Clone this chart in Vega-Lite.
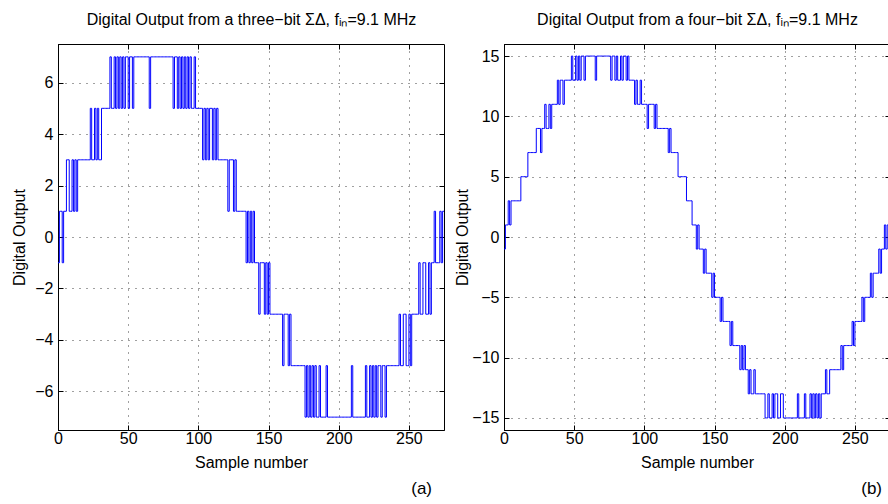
{
"$schema": "https://vega.github.io/schema/vega-lite/v6.json",
"autosize": {"type": "pad"},
"padding": {"left": 11, "top": 11, "right": 0, "bottom": 0},
"background": "white",
"bounds": "flush",
"spacing": 60,
"config": {
  "font": "Liberation Sans",
  "view": {"stroke": "black", "strokeWidth": 1},
  "axis": {"domainColor": "black", "tickColor": "black", "tickSize": -5, "labelFontSize": 16, "titleFontSize": 16, "titleFontWeight": "normal", "labelColor": "black", "titleColor": "black", "gridColor": "#000000", "gridDash": [1, 6], "gridOpacity": 0.75, "labelFlush": false, "labelOverlap": false, "labelPadding": 10}
},
"datasets": {
"a": [
{"n":0,"v":-1},{"n":1,"v":1},{"n":2,"v":1},{"n":3,"v":-1},{"n":4,"v":1},{"n":5,"v":1},{"n":6,"v":3},{"n":7,"v":3},{"n":8,"v":1},{"n":9,"v":1},
{"n":10,"v":3},{"n":11,"v":1},{"n":12,"v":3},{"n":13,"v":1},{"n":14,"v":3},{"n":15,"v":3},{"n":16,"v":3},{"n":17,"v":3},{"n":18,"v":3},{"n":19,"v":3},
{"n":20,"v":3},{"n":21,"v":3},{"n":22,"v":3},{"n":23,"v":5},{"n":24,"v":3},{"n":25,"v":3},{"n":26,"v":5},{"n":27,"v":3},{"n":28,"v":5},{"n":29,"v":3},
{"n":30,"v":3},{"n":31,"v":5},{"n":32,"v":5},{"n":33,"v":5},{"n":34,"v":5},{"n":35,"v":5},{"n":36,"v":5},{"n":37,"v":7},{"n":38,"v":5},{"n":39,"v":5},
{"n":40,"v":7},{"n":41,"v":5},{"n":42,"v":7},{"n":43,"v":5},{"n":44,"v":7},{"n":45,"v":5},{"n":46,"v":7},{"n":47,"v":5},{"n":48,"v":7},{"n":49,"v":7},
{"n":50,"v":5},{"n":51,"v":7},{"n":52,"v":7},{"n":53,"v":5},{"n":54,"v":7},{"n":55,"v":7},{"n":56,"v":7},{"n":57,"v":7},{"n":58,"v":7},{"n":59,"v":7},
{"n":60,"v":7},{"n":61,"v":7},{"n":62,"v":7},{"n":63,"v":7},{"n":64,"v":7},{"n":65,"v":5},{"n":66,"v":7},{"n":67,"v":7},{"n":68,"v":7},{"n":69,"v":7},
{"n":70,"v":7},{"n":71,"v":7},{"n":72,"v":7},{"n":73,"v":7},{"n":74,"v":7},{"n":75,"v":7},{"n":76,"v":7},{"n":77,"v":7},{"n":78,"v":7},{"n":79,"v":7},
{"n":80,"v":7},{"n":81,"v":7},{"n":82,"v":5},{"n":83,"v":7},{"n":84,"v":7},{"n":85,"v":5},{"n":86,"v":7},{"n":87,"v":5},{"n":88,"v":7},{"n":89,"v":5},
{"n":90,"v":7},{"n":91,"v":5},{"n":92,"v":7},{"n":93,"v":5},{"n":94,"v":7},{"n":95,"v":5},{"n":96,"v":5},{"n":97,"v":7},{"n":98,"v":5},{"n":99,"v":5},
{"n":100,"v":5},{"n":101,"v":5},{"n":102,"v":5},{"n":103,"v":3},{"n":104,"v":5},{"n":105,"v":3},{"n":106,"v":5},{"n":107,"v":3},{"n":108,"v":5},{"n":109,"v":5},
{"n":110,"v":3},{"n":111,"v":5},{"n":112,"v":3},{"n":113,"v":5},{"n":114,"v":3},{"n":115,"v":3},{"n":116,"v":3},{"n":117,"v":3},{"n":118,"v":3},{"n":119,"v":3},
{"n":120,"v":3},{"n":121,"v":1},{"n":122,"v":3},{"n":123,"v":3},{"n":124,"v":3},{"n":125,"v":1},{"n":126,"v":3},{"n":127,"v":1},{"n":128,"v":1},{"n":129,"v":1},
{"n":130,"v":1},{"n":131,"v":1},{"n":132,"v":1},{"n":133,"v":1},{"n":134,"v":-1},{"n":135,"v":1},{"n":136,"v":-1},{"n":137,"v":1},{"n":138,"v":-1},{"n":139,"v":1},
{"n":140,"v":-1},{"n":141,"v":-1},{"n":142,"v":-1},{"n":143,"v":-3},{"n":144,"v":-1},{"n":145,"v":-1},{"n":146,"v":-1},{"n":147,"v":-3},{"n":148,"v":-1},{"n":149,"v":-3},
{"n":150,"v":-1},{"n":151,"v":-3},{"n":152,"v":-3},{"n":153,"v":-3},{"n":154,"v":-3},{"n":155,"v":-3},{"n":156,"v":-3},{"n":157,"v":-3},{"n":158,"v":-3},{"n":159,"v":-3},
{"n":160,"v":-5},{"n":161,"v":-3},{"n":162,"v":-3},{"n":163,"v":-3},{"n":164,"v":-5},{"n":165,"v":-3},{"n":166,"v":-5},{"n":167,"v":-5},{"n":168,"v":-5},{"n":169,"v":-5},
{"n":170,"v":-5},{"n":171,"v":-5},{"n":172,"v":-5},{"n":173,"v":-5},{"n":174,"v":-5},{"n":175,"v":-5},{"n":176,"v":-7},{"n":177,"v":-5},{"n":178,"v":-7},{"n":179,"v":-5},
{"n":180,"v":-7},{"n":181,"v":-5},{"n":182,"v":-7},{"n":183,"v":-5},{"n":184,"v":-7},{"n":185,"v":-7},{"n":186,"v":-5},{"n":187,"v":-7},{"n":188,"v":-7},{"n":189,"v":-7},
{"n":190,"v":-7},{"n":191,"v":-5},{"n":192,"v":-7},{"n":193,"v":-7},{"n":194,"v":-7},{"n":195,"v":-7},{"n":196,"v":-7},{"n":197,"v":-7},{"n":198,"v":-7},{"n":199,"v":-7},
{"n":200,"v":-7},{"n":201,"v":-7},{"n":202,"v":-7},{"n":203,"v":-7},{"n":204,"v":-7},{"n":205,"v":-7},{"n":206,"v":-7},{"n":207,"v":-7},{"n":208,"v":-7},{"n":209,"v":-5},
{"n":210,"v":-7},{"n":211,"v":-7},{"n":212,"v":-7},{"n":213,"v":-7},{"n":214,"v":-7},{"n":215,"v":-7},{"n":216,"v":-7},{"n":217,"v":-7},{"n":218,"v":-7},{"n":219,"v":-5},
{"n":220,"v":-7},{"n":221,"v":-7},{"n":222,"v":-5},{"n":223,"v":-7},{"n":224,"v":-5},{"n":225,"v":-7},{"n":226,"v":-5},{"n":227,"v":-7},{"n":228,"v":-5},{"n":229,"v":-5},
{"n":230,"v":-7},{"n":231,"v":-5},{"n":232,"v":-5},{"n":233,"v":-7},{"n":234,"v":-5},{"n":235,"v":-5},{"n":236,"v":-5},{"n":237,"v":-5},{"n":238,"v":-5},{"n":239,"v":-5},
{"n":240,"v":-5},{"n":241,"v":-5},{"n":242,"v":-5},{"n":243,"v":-3},{"n":244,"v":-5},{"n":245,"v":-5},{"n":246,"v":-3},{"n":247,"v":-3},{"n":248,"v":-5},{"n":249,"v":-5},
{"n":250,"v":-3},{"n":251,"v":-5},{"n":252,"v":-3},{"n":253,"v":-3},{"n":254,"v":-3},{"n":255,"v":-3},{"n":256,"v":-3},{"n":257,"v":-1},{"n":258,"v":-3},{"n":259,"v":-3},
{"n":260,"v":-1},{"n":261,"v":-1},{"n":262,"v":-3},{"n":263,"v":-3},{"n":264,"v":-1},{"n":265,"v":-3},{"n":266,"v":-1},{"n":267,"v":-1},{"n":268,"v":1},{"n":269,"v":-1},
{"n":270,"v":-1},{"n":271,"v":-1},{"n":272,"v":1},{"n":273,"v":-1},{"n":274,"v":1},{"n":275,"v":1}
],
"b": [
{"n":0,"v":-1},{"n":1,"v":1},{"n":2,"v":1},{"n":3,"v":3},{"n":4,"v":1},{"n":5,"v":3},{"n":6,"v":3},{"n":7,"v":3},{"n":8,"v":3},{"n":9,"v":3},
{"n":10,"v":3},{"n":11,"v":3},{"n":12,"v":5},{"n":13,"v":5},{"n":14,"v":5},{"n":15,"v":5},{"n":16,"v":5},{"n":17,"v":7},{"n":18,"v":7},{"n":19,"v":7},
{"n":20,"v":7},{"n":21,"v":7},{"n":22,"v":7},{"n":23,"v":9},{"n":24,"v":9},{"n":25,"v":9},{"n":26,"v":7},{"n":27,"v":9},{"n":28,"v":9},{"n":29,"v":11},
{"n":30,"v":9},{"n":31,"v":9},{"n":32,"v":11},{"n":33,"v":9},{"n":34,"v":11},{"n":35,"v":11},{"n":36,"v":11},{"n":37,"v":11},{"n":38,"v":13},{"n":39,"v":11},
{"n":40,"v":13},{"n":41,"v":13},{"n":42,"v":11},{"n":43,"v":13},{"n":44,"v":13},{"n":45,"v":13},{"n":46,"v":13},{"n":47,"v":13},{"n":48,"v":15},{"n":49,"v":13},
{"n":50,"v":13},{"n":51,"v":15},{"n":52,"v":13},{"n":53,"v":15},{"n":54,"v":13},{"n":55,"v":15},{"n":56,"v":15},{"n":57,"v":13},{"n":58,"v":15},{"n":59,"v":15},
{"n":60,"v":15},{"n":61,"v":15},{"n":62,"v":15},{"n":63,"v":15},{"n":64,"v":15},{"n":65,"v":13},{"n":66,"v":15},{"n":67,"v":15},{"n":68,"v":15},{"n":69,"v":15},
{"n":70,"v":15},{"n":71,"v":15},{"n":72,"v":15},{"n":73,"v":15},{"n":74,"v":15},{"n":75,"v":15},{"n":76,"v":13},{"n":77,"v":15},{"n":78,"v":15},{"n":79,"v":13},
{"n":80,"v":15},{"n":81,"v":13},{"n":82,"v":13},{"n":83,"v":15},{"n":84,"v":13},{"n":85,"v":15},{"n":86,"v":15},{"n":87,"v":13},{"n":88,"v":15},{"n":89,"v":13},
{"n":90,"v":13},{"n":91,"v":13},{"n":92,"v":13},{"n":93,"v":11},{"n":94,"v":13},{"n":95,"v":11},{"n":96,"v":11},{"n":97,"v":13},{"n":98,"v":11},{"n":99,"v":11},
{"n":100,"v":11},{"n":101,"v":11},{"n":102,"v":9},{"n":103,"v":11},{"n":104,"v":11},{"n":105,"v":11},{"n":106,"v":11},{"n":107,"v":9},{"n":108,"v":11},{"n":109,"v":9},
{"n":110,"v":9},{"n":111,"v":9},{"n":112,"v":9},{"n":113,"v":9},{"n":114,"v":9},{"n":115,"v":9},{"n":116,"v":9},{"n":117,"v":7},{"n":118,"v":9},{"n":119,"v":7},
{"n":120,"v":7},{"n":121,"v":7},{"n":122,"v":7},{"n":123,"v":7},{"n":124,"v":5},{"n":125,"v":5},{"n":126,"v":5},{"n":127,"v":5},{"n":128,"v":5},{"n":129,"v":5},
{"n":130,"v":3},{"n":131,"v":3},{"n":132,"v":3},{"n":133,"v":3},{"n":134,"v":1},{"n":135,"v":1},{"n":136,"v":1},{"n":137,"v":-1},{"n":138,"v":1},{"n":139,"v":-1},
{"n":140,"v":-1},{"n":141,"v":-1},{"n":142,"v":-3},{"n":143,"v":-1},{"n":144,"v":-3},{"n":145,"v":-3},{"n":146,"v":-3},{"n":147,"v":-3},{"n":148,"v":-5},{"n":149,"v":-3},
{"n":150,"v":-5},{"n":151,"v":-5},{"n":152,"v":-5},{"n":153,"v":-5},{"n":154,"v":-7},{"n":155,"v":-5},{"n":156,"v":-7},{"n":157,"v":-7},{"n":158,"v":-7},{"n":159,"v":-7},
{"n":160,"v":-7},{"n":161,"v":-9},{"n":162,"v":-7},{"n":163,"v":-9},{"n":164,"v":-9},{"n":165,"v":-9},{"n":166,"v":-9},{"n":167,"v":-9},{"n":168,"v":-11},{"n":169,"v":-9},
{"n":170,"v":-11},{"n":171,"v":-9},{"n":172,"v":-11},{"n":173,"v":-11},{"n":174,"v":-13},{"n":175,"v":-11},{"n":176,"v":-13},{"n":177,"v":-13},{"n":178,"v":-11},{"n":179,"v":-13},
{"n":180,"v":-13},{"n":181,"v":-13},{"n":182,"v":-13},{"n":183,"v":-13},{"n":184,"v":-13},{"n":185,"v":-13},{"n":186,"v":-15},{"n":187,"v":-15},{"n":188,"v":-13},{"n":189,"v":-15},
{"n":190,"v":-15},{"n":191,"v":-13},{"n":192,"v":-15},{"n":193,"v":-13},{"n":194,"v":-13},{"n":195,"v":-15},{"n":196,"v":-15},{"n":197,"v":-13},{"n":198,"v":-13},{"n":199,"v":-15},
{"n":200,"v":-15},{"n":201,"v":-15},{"n":202,"v":-15},{"n":203,"v":-15},{"n":204,"v":-15},{"n":205,"v":-15},{"n":206,"v":-15},{"n":207,"v":-15},{"n":208,"v":-15},{"n":209,"v":-13},
{"n":210,"v":-15},{"n":211,"v":-15},{"n":212,"v":-15},{"n":213,"v":-15},{"n":214,"v":-13},{"n":215,"v":-15},{"n":216,"v":-15},{"n":217,"v":-15},{"n":218,"v":-13},{"n":219,"v":-15},
{"n":220,"v":-13},{"n":221,"v":-15},{"n":222,"v":-13},{"n":223,"v":-15},{"n":224,"v":-13},{"n":225,"v":-15},{"n":226,"v":-13},{"n":227,"v":-13},{"n":228,"v":-13},{"n":229,"v":-11},
{"n":230,"v":-13},{"n":231,"v":-13},{"n":232,"v":-11},{"n":233,"v":-11},{"n":234,"v":-11},{"n":235,"v":-11},{"n":236,"v":-11},{"n":237,"v":-11},{"n":238,"v":-11},{"n":239,"v":-11},
{"n":240,"v":-9},{"n":241,"v":-11},{"n":242,"v":-9},{"n":243,"v":-9},{"n":244,"v":-9},{"n":245,"v":-9},{"n":246,"v":-9},{"n":247,"v":-9},{"n":248,"v":-7},{"n":249,"v":-9},
{"n":250,"v":-7},{"n":251,"v":-7},{"n":252,"v":-7},{"n":253,"v":-7},{"n":254,"v":-7},{"n":255,"v":-5},{"n":256,"v":-7},{"n":257,"v":-5},{"n":258,"v":-5},{"n":259,"v":-5},
{"n":260,"v":-5},{"n":261,"v":-3},{"n":262,"v":-5},{"n":263,"v":-3},{"n":264,"v":-3},{"n":265,"v":-3},{"n":266,"v":-3},{"n":267,"v":-1},{"n":268,"v":-3},{"n":269,"v":-1},
{"n":270,"v":-1},{"n":271,"v":1},{"n":272,"v":-1},{"n":273,"v":1},{"n":274,"v":1},{"n":275,"v":1}
]
},
"hconcat": [
{
  "width": 386, "height": 386,
  "data": {"name": "a"},
  "title": {"text": "(a)", "orient": "bottom", "anchor": "end", "frame": "group", "fontSize": 17, "fontWeight": "normal", "offset": 11, "dx": -12},
  "layer": [
    {"mark": {"type": "line", "interpolate": "step-after", "color": "#0000ff", "strokeWidth": 1, "clip": true},
     "encoding": {
       "x": {"field": "n", "type": "quantitative", "scale": {"domain": [0, 275], "nice": false, "zero": false}, "axis": {"orient": "bottom", "values": [0,50,100,150,200,250], "title": "Sample number", "grid": true, "labelPadding": 5, "titlePadding": 8}},
       "y": {"field": "v", "type": "quantitative", "scale": {"domain": [-7.5, 7.5], "nice": false, "zero": false}, "axis": {"orient": "left", "values": [-6,-4,-2,0,2,4,6], "title": "Digital Output", "grid": true, "titlePadding": 7}}
     }},
    {"mark": {"type": "line", "opacity": 0},
     "encoding": {
       "x": {"field": "n", "type": "quantitative", "axis": {"orient": "top", "values": [0,50,100,150,200,250], "labels": false, "grid": false, "domain": false, "title": "Digital Output from a three−bit ΣΔ, fᵢₙ=9.1 MHz", "titlePadding": 16}},
       "y": {"field": "v", "type": "quantitative", "axis": {"orient": "right", "values": [-6,-4,-2,0,2,4,6], "labels": false, "grid": false, "domain": false, "title": null}}
     }}
  ],
  "resolve": {"axis": {"x": "independent", "y": "independent"}}
},
{
  "width": 386, "height": 386,
  "data": {"name": "b"},
  "title": {"text": "(b)", "orient": "bottom", "anchor": "end", "frame": "group", "fontSize": 17, "fontWeight": "normal", "offset": 11, "dx": -8},
  "layer": [
    {"mark": {"type": "line", "interpolate": "step-after", "color": "#0000ff", "strokeWidth": 1, "clip": true},
     "encoding": {
       "x": {"field": "n", "type": "quantitative", "scale": {"domain": [0, 275], "nice": false, "zero": false}, "axis": {"orient": "bottom", "values": [0,50,100,150,200,250], "title": "Sample number", "grid": true, "labelPadding": 5, "titlePadding": 8}},
       "y": {"field": "v", "type": "quantitative", "scale": {"domain": [-16, 16], "nice": false, "zero": false}, "axis": {"orient": "left", "values": [-15,-10,-5,0,5,10,15], "title": "Digital Output", "grid": true, "titlePadding": 1}}
     }},
    {"mark": {"type": "line", "opacity": 0},
     "encoding": {
       "x": {"field": "n", "type": "quantitative", "axis": {"orient": "top", "values": [0,50,100,150,200,250], "labels": false, "grid": false, "domain": false, "title": "Digital Output from a four−bit ΣΔ, fᵢₙ=9.1 MHz", "titlePadding": 16}},
       "y": {"field": "v", "type": "quantitative", "axis": {"orient": "right", "values": [-15,-10,-5,0,5,10,15], "labels": false, "grid": false, "domain": false, "title": null}}
     }}
  ],
  "resolve": {"axis": {"x": "independent", "y": "independent"}}
}
]
}
